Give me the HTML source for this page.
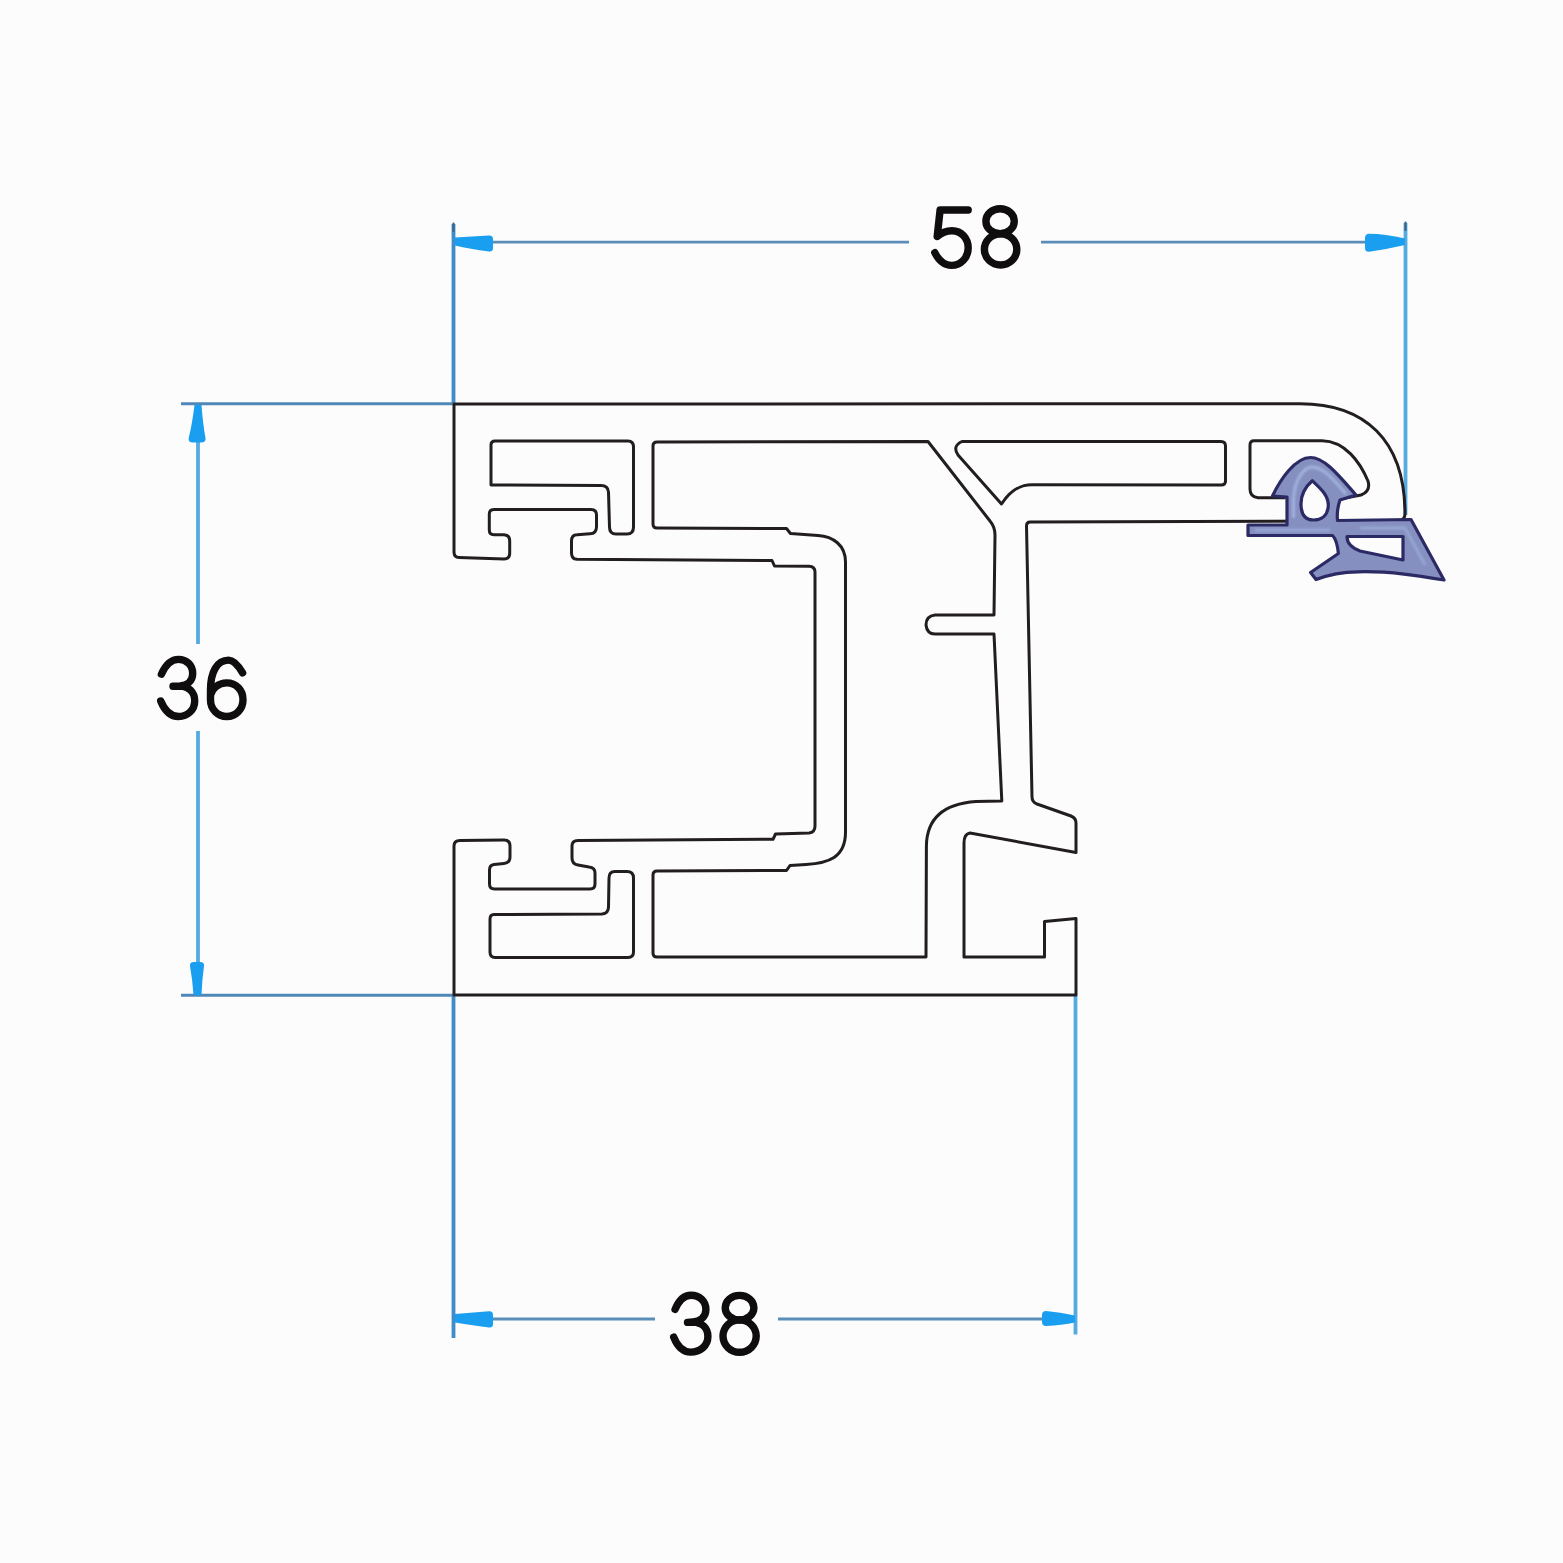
<!DOCTYPE html>
<html><head><meta charset="utf-8">
<style>
html,body{margin:0;padding:0;background:#fcfcfc;}
body{width:1563px;height:1563px;overflow:hidden;}
svg{display:block;}
text{font-family:"Liberation Sans",sans-serif;fill:#0d0d0d;}
</style></head>
<body>
<svg width="1563" height="1563" viewBox="0 0 1563 1563">
<rect width="1563" height="1563" fill="#fcfcfc"/>

<!-- dimension lines -->
<g fill="none" stroke-linecap="butt">
  <path d="M453.5 224 V404 M453.5 995 V1338" stroke="#3f8cc8" stroke-width="3.8"/>
  <path d="M1405.5 223 V515 M1075.5 995 V1334.5 M198 405 V644 M198 731 V994" stroke="#55aae0" stroke-width="3.8"/>
  <path d="M181 403.8 H453 M181 995.3 H453" stroke="#4f88b8" stroke-width="3"/>
  <path d="M455 242.2 H909 M1041 242.2 H1404 M455 1319 H655 M778 1319 H1074" stroke="#5a8db8" stroke-width="2.8"/>
</g>
<g fill="#1a9ef0">
  <path d="M455 237.5 L489 235.5 Q493 235.3 493 239 L493 248 Q493 252 489 251.5 Q470 249 455 245.5 Z"/>
  <path d="M1405 238.5 Q1385 234 1369 233.8 Q1365 234 1365 238 L1365 248 Q1365 252 1369 251.8 Q1388 249 1405 245 Z"/>
  <path d="M194.5 405 L201.5 405 Q203 425 205.5 438 Q206 442.5 201 442.5 L193 442.5 Q188 442.5 188.7 438 Q192 425 194.5 405 Z"/>
  <path d="M193.5 995 L201.5 995 Q202 980 204 966 Q204.5 962 200 962 L194 962 Q189.5 962 190 966 Q192.5 980 193.5 995 Z"/>
  <path d="M455 1314 L489 1311.3 Q493 1311 493 1315 L493 1324 Q493 1328 489 1327.5 Q470 1325 455 1322.5 Z"/>
  <path d="M1075 1315.5 Q1060 1312 1046 1311 Q1042 1311 1042 1315 L1042 1322 Q1042 1326 1046 1326 Q1062 1325 1075 1322.5 Z"/>
</g>
<path d="M453.5 223.5 V231 M1405.5 222.5 V230" stroke="#3a6585" stroke-width="2.2" stroke-linecap="round"/>

<!-- profile -->
<g fill="none" stroke="#221e20" stroke-width="3" stroke-linejoin="round">
  <!-- outer contour -->
  <path id="outer" d="M454 404 L1300 403.7 C1363.9 403.7 1405 439.2 1405 514 Q1405 520.5 1398 520.8 L1030 522 Q1026.5 522 1026.5 526 L1032 797 Q1032 802 1037 804 L1071 816 Q1076 818 1076 823 L1076 852.5 L970 833 Q964 834 964 843 L964 957 L1044.5 957 L1044.5 921.5 L1076 918.4 L1076 995 L454 995 L454 846 Q454 840.5 460 840.5 L504 840 Q510 840 510 846 L510 857 Q510 863 504 863.5 L494 864.5 Q489.5 865 489.5 870 L489.5 884 Q489.5 889 494.5 889 L590 889 Q595 889 595 884 L595 873 Q595 867.5 589 867 L578 865 Q572 864 572 858 L572 846 Q572 840.5 578 840.5 L773 839.3 L775.5 834 L809 833 Q815 832.5 815 826 L815 572 Q815 566.5 809 566.3 L774.5 566 L772 560.5 L577 559.3 Q571.5 559 571.5 553 L571.5 541 Q571.5 535 577 534.8 L590 533.8 Q596.5 533.5 596.5 527 L596.5 515 Q596.5 509.5 591 509.5 L494 509.5 Q489.3 509.5 489.3 514 L489.3 530 Q489.3 534.7 494 534.7 L504 534.7 Q509.7 535 509.7 541 L509.7 553 Q509.7 559 504 559 L459 557.5 Q454 557.5 454 552 Z"/>
  <!-- cavity 1 top -->
  <path d="M495 441 L628 441 Q633.5 441 633.5 447 L633.5 527 Q633.5 534 627 534 L616 534 Q609.5 534 609.5 527 L608.5 492 Q608 485.5 601 485.5 L491 485 L491 445 Q491 441 495 441 Z"/>
  <!-- cavity 1 bottom -->
  <path d="M494 914.5 L602 914 Q608.5 913.5 608.5 907 L609 878 Q609 871.5 615 871.5 L627 871.5 Q633.5 871.5 633.5 878 L633.5 952 Q633.5 957.5 628 957.5 L495 957.5 Q490 957.5 490 952 L490 919 Q490 914.5 494 914.5 Z"/>
  <!-- cavity 2 big C -->
  <path d="M657 442 L928 441.5 L990 521 Q995 527 995 535 L994 615 L935 615 Q926 616 926 625 Q927 634 935 634 L994 634 L1001.8 801 L976 801.6 Q927 805 926.4 846 L926 957 L657 957 Q653 957 653 953 L653 875 Q653 871 657 871 L786.5 870.5 L790 865.5 L806 864.5 C828 863 845.5 858 845.5 832 L845.5 562 C845.5 545 833 536.5 818 535.5 L790.5 533.5 L786.5 528.5 L657 528 Q653 528 653 524 L653 446 Q653 442 657 442 Z"/>
  <!-- cavity 3 -->
  <path d="M962 441.5 L1221 441.5 Q1225.5 441.5 1225.5 446 L1225.5 481 Q1225.5 485 1221 485 L1032 484.7 C1019 484.7 1010 491 1001.5 504 L958 455 Q952 446 962 441.5 Z"/>
  <!-- cavity 6 -->
  <path d="M1285.5 497.7 L1258 497.7 Q1250 497 1250 489 L1250 445 Q1250 440.7 1254 440.7 L1322 440.7 C1345 441 1360 462 1368 481 Q1371 491 1361 495 L1340 499"/>
</g>

<!-- gasket -->
<defs><filter id="bl" x="-20%" y="-20%" width="140%" height="140%"><feGaussianBlur stdDeviation="1"/></filter></defs>
<g stroke-linejoin="round">
  <path fill="#8590c0" stroke="#2c2a64" stroke-width="3.2" fill-rule="evenodd" d="M1248 525 L1287 525 L1287 497 L1272.5 496 C1280 480 1295 457.5 1310.5 457.5 C1325 457.5 1340 477 1356 495 L1340 500 Q1336.5 510 1337.5 520.5 L1411 519.5 L1444 580 C1420 576 1390 571 1358 571.8 C1340 572 1325 576 1316 579.5 L1310.6 572.5 L1338.4 553.5 Q1337 540 1332.6 535.5 L1248 535.5 Z
   M1312.3 480.7 C1320 488 1328.3 495 1328.3 505 C1328 517 1320 520 1313.5 520 C1305 520 1301 515 1301 504 C1301 495 1305 487 1312.3 480.7 Z
   M1347 536.5 L1403 536.5 L1403 560 L1360 551 C1352 548 1347 543 1347 536.5 Z"/>
  <path fill="none" stroke="#a3b2de" stroke-width="3" filter="url(#bl)" d="M1293.5 518 L1293.5 500 C1294 482 1302 468 1312 467 C1322 467 1332 477 1346 494"/>
  <path fill="none" stroke="#9aaad8" stroke-width="2.5" filter="url(#bl)" d="M1255 530 L1330 530 M1360 528 L1405 528 L1425 565"/>
</g>

<!-- text -->
<g fill="none" stroke="#0f0d0e" stroke-width="7.4" stroke-linecap="round" stroke-linejoin="round">
  <!-- 58 -->
  <path d="M968.2 210 L940.1 210 L937.2 236.5 C941 233 946 230.7 952 230.7 C961.5 230.7 968.2 238.5 968.2 248 C968.2 257.5 961 265.4 951.5 265.4 C944 265.4 938.5 260 934.8 252.7"/>
  <ellipse cx="1000.1" cy="221.2" rx="14.2" ry="12.5"/>
  <ellipse cx="1000.6" cy="249.4" rx="16.2" ry="15.6"/>
  <!-- 36 -->
  <path d="M161.4 674.2 C165 666 171 659.4 178.5 659.4 C186.5 659.4 192.7 665 192.7 673.5 C192.7 681 187 685.5 180 686 L173 686.3 M180 686 C189 686.5 194.7 692 194.7 701 C194.7 710 187.5 716.5 178.5 716.5 C170 716.5 164 709 160.7 701"/>
  <path d="M242.6 672.9 C238 665 233 660.1 228.6 660.1 C217 660.1 210.5 672 210.5 690 L210.5 700 C210.5 709 217.5 716.5 226.75 716.5 C236 716.5 243 709 243 699.7 C243 690 236 682.9 226.75 682.9 C218 682.9 212 689 210.5 695"/>
  <!-- 38 -->
  <path d="M675.1 1309.4 C679 1300 685 1295.3 691 1295.3 C699.5 1295.3 705.9 1301 705.9 1309.5 C705.9 1317 700 1321.5 693 1322 L687.5 1322.4 M693 1322 C702 1322.5 707.9 1328 707.9 1336.5 C707.9 1346 700 1352.1 690.5 1352.1 C682 1352.1 677 1345.5 673.7 1337.2"/>
  <ellipse cx="739.55" cy="1307.7" rx="14.35" ry="12.3"/>
  <ellipse cx="739.6" cy="1336.1" rx="16.6" ry="16.2"/>
</g>
</svg>
</body></html>
